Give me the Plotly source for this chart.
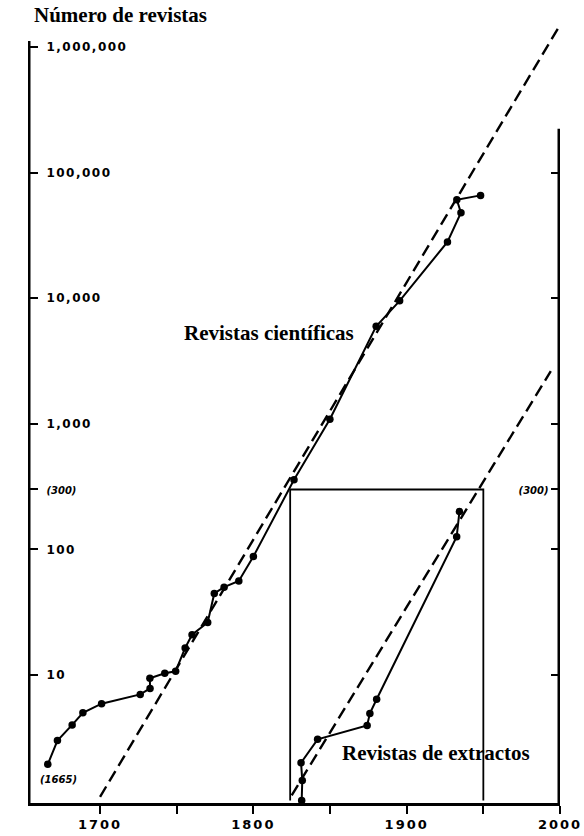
import plotly.graph_objects as go

# ---- data ----
sci_years = [1665.9, 1672.2, 1681.8, 1688.8, 1701.0, 1726.2, 1732.6, 1732.5, 1742.2, 1749.3,
             1755.5, 1760.0, 1770.2, 1774.5, 1780.9, 1790.5, 1800.0, 1826.5, 1849.9, 1880.1,
             1895.4, 1926.6, 1935.4, 1932.7, 1948.2]
sci_values = [1.94, 3.0, 4.0, 5.0, 5.9, 7.0, 7.8, 9.4, 10.3, 10.7,
              16.4, 20.9, 26.2, 44.6, 50.0, 56.1, 87.7, 358, 1089, 5984,
              9536, 28100, 48000, 61000, 66000]

abs_years = [1831.5, 1831.9, 1831.1, 1841.9, 1874.2, 1876.0, 1880.4, 1932.6, 1934.4]
abs_values = [1.0, 1.44, 2.0, 3.07, 3.96, 4.94, 6.4, 126, 200]

sci_trend_years = [1700, 2000]
sci_trend_values = [1.07, 1500000]
abs_trend_years = [1825, 1994]
abs_trend_values = [1.1, 2630]

box_years = [1824, 1824, 1950, 1950]
box_values = [1, 300, 300, 1]

x_tickvals = [1700, 1750, 1800, 1850, 1900, 1950, 2000]
x_ticktext = ["1700", "", "1800", "", "1900", "", "2000"]
y_tickvals = [10, 100, 300, 1000, 10000, 100000, 1000000]
y_ticktext = ["10", "100", "(300)", "1,000", "10,000", "100,000", "1,000,000"]
y2_tickvals = [10, 100, 300, 1000, 10000, 100000]
y2_ticktext = ["", "", "(300)", "", "", ""]


def wide(t, sp=1.5):
    if not t:
        return t
    if t.startswith("("):
        return "<span style='font-size:10px'><i>" + t + "</i></span>"
    return "<span style='letter-spacing:%spx'>%s</span>" % (sp, t)


X_MIN, X_MAX = 1653, 2000
LOG_MIN, LOG_MAX = -0.02, 6.32
AXIS_TOP = 10 ** 6.05
RIGHT_AXIS_TOP = 10 ** 5.35
BOTTOM = 10 ** LOG_MIN

fig = go.Figure()

# axis lines (left and right) drawn as traces
fig.add_trace(go.Scatter(x=[X_MIN, X_MIN], y=[BOTTOM, AXIS_TOP], mode="lines",
                         line=dict(color="black", width=5), hoverinfo="skip", showlegend=False,
                         yaxis="y3"))
fig.add_trace(go.Scatter(x=[X_MAX, X_MAX], y=[BOTTOM, RIGHT_AXIS_TOP], mode="lines",
                         line=dict(color="black", width=5), hoverinfo="skip", showlegend=False,
                         yaxis="y2"))

# box
fig.add_trace(go.Scatter(x=box_years, y=box_values, mode="lines",
                         line=dict(color="black", width=1.8), hoverinfo="skip", showlegend=False))

# trend lines
fig.add_trace(go.Scatter(x=sci_trend_years, y=sci_trend_values, mode="lines",
                         line=dict(color="black", width=2.4, dash="12px,6px"), showlegend=False))
fig.add_trace(go.Scatter(x=abs_trend_years, y=abs_trend_values, mode="lines",
                         line=dict(color="black", width=2.4, dash="12px,6px"), showlegend=False))

# data series
fig.add_trace(go.Scatter(x=sci_years, y=sci_values, mode="lines+markers",
                         line=dict(color="black", width=2),
                         marker=dict(color="black", size=7.5), showlegend=False))
fig.add_trace(go.Scatter(x=abs_years, y=abs_values, mode="lines+markers",
                         line=dict(color="black", width=2),
                         marker=dict(color="black", size=7.5), showlegend=False))

serif = "Liberation Serif"
tickfont = dict(family="DejaVu Sans", size=12, color="black", weight="bold")
common_y = dict(type="log", range=[LOG_MIN, LOG_MAX], showgrid=False, zeroline=False,
                showline=False, automargin=False)
fig.update_layout(
    width=584, height=836,
    margin=dict(l=28, r=24, t=7, b=33, autoexpand=False),
    paper_bgcolor="white", plot_bgcolor="white",
    xaxis=dict(range=[X_MIN, X_MAX], showgrid=False, zeroline=False, automargin=False,
               showline=True, linecolor="black", linewidth=2.5,
               ticks="outside", ticklen=8, tickwidth=2, tickcolor="black",
               tickvals=x_tickvals, ticktext=[wide(t, 2) for t in x_ticktext],
               ticklabeloverflow="allow",
               tickfont=dict(family="DejaVu Sans", size=13, color="black", weight="bold")),
    yaxis=dict(**common_y, showticklabels=False, ticks=""),
    # left scale: ticks and labels pointing into the plot
    yaxis3=dict(**common_y, overlaying="y", side="right", anchor="free", position=0,
                ticks="outside", ticklen=9, tickwidth=2, tickcolor="black",
                tickvals=y_tickvals, ticktext=[wide(t) for t in y_ticktext],
                ticklabelstandoff=6, tickfont=tickfont),
    # right scale: ticks pointing into the plot, only "(300)" labelled
    yaxis2=dict(**common_y, overlaying="y", side="left", anchor="free", position=1,
                ticks="outside", ticklen=9, tickwidth=2, tickcolor="black",
                tickvals=y2_tickvals, ticktext=[wide(t) for t in y2_ticktext],
                tickfont=tickfont),
    annotations=[
        dict(text="Número de revistas", xref="paper", yref="paper", x=0.0075, y=0.99,
             xanchor="left", yanchor="middle", showarrow=False,
             font=dict(family=serif, size=21, color="black", weight="bold")),
        dict(text="Revistas científicas", xref="x", yref="y", x=1810, y=3.72,
             xanchor="center", yanchor="middle", showarrow=False,
             font=dict(family=serif, size=21, color="black", weight="bold")),
        dict(text="Revistas de extractos", xref="x", yref="y", x=1919, y=0.377,
             xanchor="center", yanchor="middle", showarrow=False,
             font=dict(family=serif, size=21, color="black", weight="bold")),
        dict(text="<i>(1665)</i>", xref="x", yref="y", x=1673, y=0.17,
             xanchor="center", yanchor="middle", showarrow=False,
             font=dict(family="DejaVu Sans", size=10, color="black", weight="bold")),
    ],
)

fig.write_html("out.html", config={"displayModeBar": False},
               post_script="document.body.style.margin='0';")
